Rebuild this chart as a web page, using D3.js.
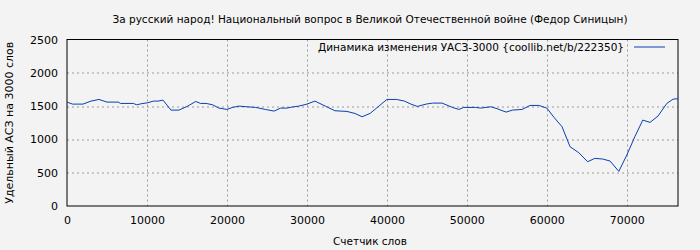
<!DOCTYPE html>
<html>
<head>
<meta charset="utf-8">
<script src="https://cdn.jsdelivr.net/npm/d3@7"></script>
<style>
  body { margin: 0; background: #f3f3f3; }
  svg { display: block; font-family: "DejaVu Sans", sans-serif; }
</style>
</head>
<body>
<svg id="chart" width="700" height="250"></svg>
<script>
// word counter positions and values
let words = [0, 700, 2000, 3000, 4000, 5000, 6400, 6700, 8300, 8700, 9500, 10100, 10800, 11400, 12000,
    13000, 14000, 15100, 16100, 16700, 17400, 18200, 19000, 20000, 20700, 21500, 22500, 23600, 24800,
    25900, 26700, 27500, 28100, 29000, 30000, 31000, 32300, 33500, 35000, 36000, 36900, 37900, 38900,
    40000, 41200, 42200, 43000, 43800, 44900, 45700, 46900, 48200, 49000, 49600, 51100, 51700, 53000,
    53800, 54900, 55700, 56900, 57900, 59000, 60000, 60900, 61900, 62900, 64000, 65100, 66000, 67000,
    67900, 69000, 70000, 71000, 72000, 72900, 73900, 75000, 75800, 76400];
let asz = [1560, 1530, 1530, 1575, 1600, 1560, 1560, 1540, 1540, 1520, 1540, 1550, 1575, 1575, 1590,
    1440, 1440, 1500, 1570, 1540, 1540, 1520, 1470, 1450, 1480, 1500, 1490, 1480, 1450,
    1425, 1470, 1470, 1485, 1500, 1530, 1575, 1500, 1430, 1420, 1390, 1340, 1390, 1490,
    1600, 1600, 1575, 1530, 1495, 1530, 1545, 1545, 1480, 1450, 1480, 1480, 1470, 1490,
    1460, 1410, 1440, 1450, 1510, 1510, 1470, 1330, 1190, 890, 800, 665, 715, 705,
    675, 520, 765, 1040, 1290, 1255, 1350, 1540, 1605, 1610];
let xTicks = [0, 10000, 20000, 30000, 40000, 50000, 60000, 70000];
let yTicks = [0, 500, 1000, 1500, 2000, 2500];

let titleText = "За русский народ! Национальный вопрос в Великой Отечественной войне (Федор Синицын)";
let legendText = "Динамика изменения УАСЗ-3000 {coollib.net/b/222350}";

let margin = { top: 39.5, right: 22, bottom: 44, left: 67 };
let svg = d3.select("#chart");
let width = 700 - margin.left - margin.right;
let height = 250 - margin.top - margin.bottom;

let g = svg.append("g")
    .attr("transform", "translate(" + margin.left + "," + margin.top + ")");

let x = d3.scaleLinear().domain([0, 76400]).range([0, width]);
let y = d3.scaleLinear().domain([0, 2500]).range([height, 0]);

// grid
g.append("g").selectAll("line")
    .data(xTicks.slice(1))
    .join("line")
    .attr("x1", d => Math.round(x(d)) + 0.5)
    .attr("x2", d => Math.round(x(d)) + 0.5)
    .attr("y1", 0).attr("y2", height)
    .attr("stroke", "#999").attr("stroke-dasharray", "2,3");
g.append("g").selectAll("line")
    .data(yTicks.slice(1, -1))
    .join("line")
    .attr("x1", 0).attr("x2", width)
    .attr("y1", d => Math.round(y(d)) + 0.5)
    .attr("y2", d => Math.round(y(d)) + 0.5)
    .attr("stroke", "#999").attr("stroke-dasharray", "2,3");

// axes
let xAxis = g.append("g")
    .attr("transform", "translate(0," + height + ")")
    .call(d3.axisBottom(x).tickValues(xTicks).tickFormat(d3.format("d")).tickSize(0).tickPadding(10));
let yAxis = g.append("g")
    .call(d3.axisLeft(y).tickValues(yTicks).tickFormat(d3.format("d")).tickSize(0).tickPadding(9));
[xAxis, yAxis].forEach(a => {
    a.select(".domain").remove();
    a.selectAll("text").attr("fill", "#000").style("font-size", "11px").style("font-family", "DejaVu Sans");
});

// frame
g.append("rect")
    .attr("width", width).attr("height", height)
    .attr("fill", "none").attr("stroke", "#000").attr("stroke-width", 1);

// the line
let line = d3.line()
    .x((d, i) => x(words[i]))
    .y(d => y(d));
g.append("path")
    .datum(asz)
    .attr("fill", "none")
    .attr("stroke", "#0a3fb0")
    .attr("stroke-width", 1)
    .attr("d", line);

// legend
g.append("text")
    .attr("x", 557).attr("y", 11)
    .attr("text-anchor", "end")
    .style("font-size", "10.5px")
    .text(legendText);
g.append("line")
    .attr("x1", 567).attr("x2", 598)
    .attr("y1", 7.5).attr("y2", 7.5)
    .attr("stroke", "#0a3fb0").attr("stroke-width", 1);

// titles
svg.append("text")
    .attr("x", 370).attr("y", 23)
    .attr("text-anchor", "middle")
    .style("font-size", "10.5px")
    .text(titleText);
svg.append("text")
    .attr("x", 370).attr("y", 245)
    .attr("text-anchor", "middle")
    .style("font-size", "10.5px")
    .text("Счетчик слов");
svg.append("text")
    .attr("transform", "translate(13," + (margin.top + height / 2) + ") rotate(-90)")
    .attr("text-anchor", "middle")
    .style("font-size", "11px")
    .text("Удельный АСЗ на 3000 слов");
</script>
</body>
</html>
